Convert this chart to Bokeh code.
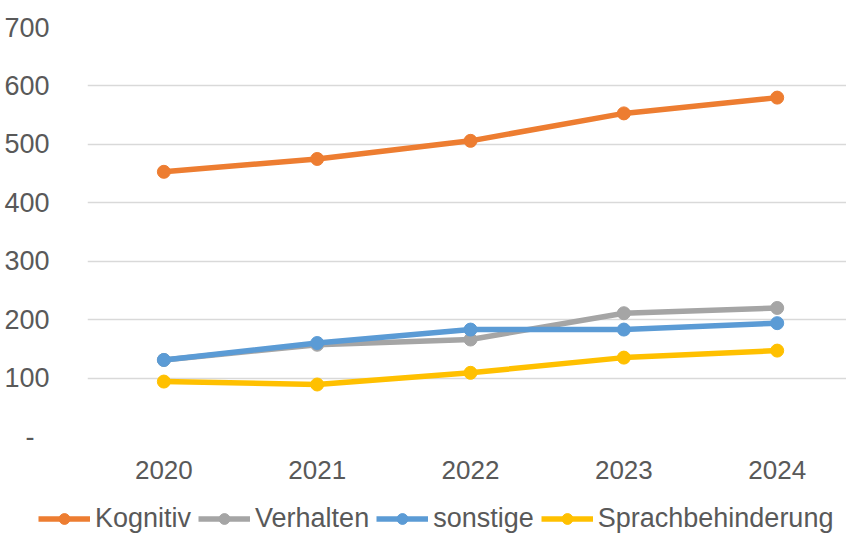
from bokeh.plotting import figure
from bokeh.layouts import column
from bokeh.models import Range1d, FixedTicker, Legend, LegendItem
from bokeh.embed import file_html
from bokeh.resources import INLINE

years = [2020, 2021, 2022, 2023, 2024]
kognitiv = [453, 475, 506, 553, 580]
verhalten = [131, 157, 166, 211, 220]
sonstige = [131, 160, 183, 183, 194]
sprach = [94, 89, 109, 135, 147]
y_ticks = [0, 100, 200, 300, 400, 500, 600, 700]
y_labels = ["-\u00a0\u00a0", "100", "200", "300", "400", "500", "600", "700"]

series = [
    ("Kognitiv", kognitiv, "#ED7D31"),
    ("Verhalten", verhalten, "#A5A5A5"),
    ("sonstige", sonstige, "#5B9BD5"),
    ("Sprachbehinderung", sprach, "#FFC000"),
]

FONT = "Liberation Sans"
TXT = "#595959"

p = figure(width=846, height=498, output_backend="svg", toolbar_location=None,
           x_range=Range1d(2019.502, 2024.452), y_range=Range1d(0, 700),
           min_border_left=87, min_border_right=0, min_border_top=27,
           min_border_bottom=62, frame_align=False)
p.outline_line_color = None
p.background_fill_color = "white"

p.xaxis.ticker = FixedTicker(ticks=years)
p.yaxis.ticker = FixedTicker(ticks=y_ticks)
p.yaxis.major_label_overrides = {t: l for t, l in zip(y_ticks, y_labels)}
p.xaxis.major_label_overrides = {y: str(y) for y in years}
for ax in (p.xaxis, p.yaxis):
    ax.axis_line_color = None
    ax.major_tick_line_color = None
    ax.minor_tick_line_color = None
    ax.major_label_text_font = FONT
    ax.major_label_text_color = TXT
p.yaxis.major_label_text_font_size = "27px"
p.xaxis.major_label_text_font_size = "26px"
p.yaxis.major_label_standoff = 32
p.xaxis.major_label_standoff = 18

p.xgrid.grid_line_color = None
p.ygrid.grid_line_color = "#D9D9D9"
p.ygrid.grid_line_width = 1.5

for name, vals, col in series:
    p.line(years, vals, line_color=col, line_width=5.5)
    p.scatter(years, vals, marker="circle", size=13, fill_color=col, line_color=col)

# legend strip (its renderers sit outside its visible range)
lf = figure(width=846, height=36, output_backend="svg", toolbar_location=None,
            x_range=Range1d(0, 1), y_range=Range1d(0, 1),
            x_axis_type=None, y_axis_type=None,
            min_border_left=0, min_border_right=0, min_border_top=0,
            min_border_bottom=0, frame_align=False)
lf.outline_line_color = None
items = []
for name, vals, col in series:
    lr = lf.line(years, vals, line_color=col, line_width=5.5)
    sr = lf.scatter(years, vals, marker="circle", size=13, fill_color=col, line_color=col)
    items.append(LegendItem(label=name, renderers=[lr, sr]))

legend = Legend(items=items, orientation="horizontal", location=(38, 0),
                glyph_width=52, glyph_height=27, label_standoff=5, spacing=7,
                padding=0, margin=0, border_line_color=None,
                background_fill_alpha=0,
                label_text_font=FONT, label_text_font_size="27px",
                label_text_color=TXT)
lf.add_layout(legend, "center")

layout = column(p, lf, spacing=0)
open("out.html", "w").write(file_html(layout, INLINE))
